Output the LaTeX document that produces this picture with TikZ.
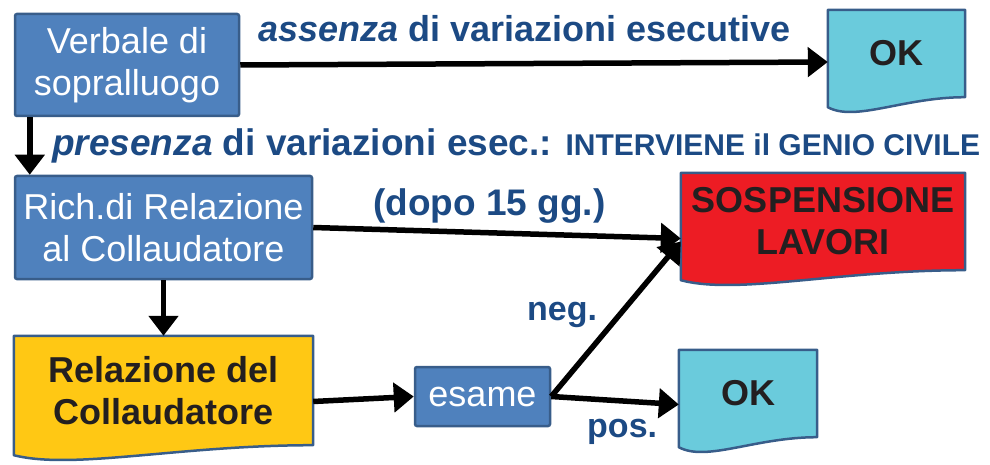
\documentclass[tikz,border=0pt]{standalone}
\usepackage{fontspec}
\setmainfont{Liberation Sans}
\usetikzlibrary{arrows.meta,backgrounds,calc}
\definecolor{boxblue}{RGB}{79,129,189}
\definecolor{boxedge}{RGB}{56,93,138}
\definecolor{okcyan}{RGB}{106,203,220}
\definecolor{relyellow}{RGB}{255,200,20}
\definecolor{sospred}{RGB}{237,28,36}
\definecolor{labblue}{RGB}{28,74,132}
\definecolor{darktext}{RGB}{35,31,32}
\tikzset{
  bluebox/.style={draw=boxedge, fill=boxblue, line width=2.5pt, rounded corners=2pt, text=white, align=center, inner sep=0pt, font=\fontsize{36}{42}\selectfont},
  docbox/.style={align=center, inner sep=0pt, text=darktext, font=\bfseries\fontsize{36}{42}\selectfont},
  lab/.style={text=labblue, inner sep=0pt, anchor=base west, font=\bfseries\fontsize{36}{40}\selectfont},
  flow/.style={line width=5.5pt, -{Triangle[length=20pt,width=29pt]}}
}
\begin{document}
\begin{tikzpicture}[x=1pt,y=-1pt]
\useasboundingbox (0,0) rectangle (990,465);
\node[bluebox, minimum width=224pt, minimum height=102pt] (verbale) at (127,65) {Verbale di\\sopralluogo};
\node[docbox, minimum width=137pt, minimum height=87pt] (okA) at (896.5,53.5) {OK};
\node[bluebox, minimum width=297pt, minimum height=103pt] (rich) at (163.5,227.5) {Rich.di Relazione\\al Collaudatore};
\node[docbox, minimum width=284pt, minimum height=97pt] (sosp) at (823,221.5) {SOSPENSIONE\\LAVORI};
\node[docbox, minimum width=299pt, minimum height=109pt] (relaz) at (163.5,390.5) {Relazione del\\Collaudatore};
\node[bluebox, minimum width=135pt, minimum height=59pt] (esame) at (482.5,396.5) {esame};
\node[docbox, minimum width=138pt, minimum height=87pt] (okB) at (748,393.5) {OK};
\begin{scope}[on background layer]
\foreach \n/\c in {okA/okcyan, sosp/sospred, relaz/relyellow, okB/okcyan}
  \draw[draw=boxedge, line width=2.5pt, fill=\c, line join=round] (\n.north west) -- (\n.north east) -- (\n.south east)
    .. controls ($(\n.south east)!0.45!(\n.south west)$) and ($(\n.south east)!0.8!(\n.south west)+(0,-25pt)$) .. ($(\n.south west)+(0,-10pt)$) -- cycle;
\end{scope}
\draw[flow] (verbale.east) -- ([yshift=-8.5pt]okA.west);
\draw[flow] ([xshift=16pt]verbale.south west) -- ([xshift=16pt]rich.north west);
\draw[flow] (rich.east) -- ([yshift=-17pt]sosp.west);
\draw[flow] (rich.south) -- (relaz.north);
\draw[flow] ([yshift=-11pt]relaz.east) -- (esame.west);
\draw[flow] (esame.east) -- ([yshift=-20pt]sosp.west);
\draw[flow] (esame.east) -- ([yshift=-11pt]okB.west);
\node[lab] (assenza) at (258,42) {\textit{assenza} di variazioni esecutive};
\node[lab, font=\bfseries\fontsize{37}{40}\selectfont] (presenza) at (52,156) {\textit{presenza} di variazioni esec.: {\fontsize{30}{34}\selectfont INTERVIENE il GENIO CIVILE}};
\node[lab, font=\bfseries\fontsize{37}{40}\selectfont] (dopo) at (373,215) {(dopo 15 gg.)};
\node[lab, font=\bfseries\fontsize{34}{40}\selectfont] (neg) at (527,320) {neg.};
\node[lab, font=\bfseries\fontsize{34}{40}\selectfont] (pos) at (587,437) {pos.};
\end{tikzpicture}
\end{document}
